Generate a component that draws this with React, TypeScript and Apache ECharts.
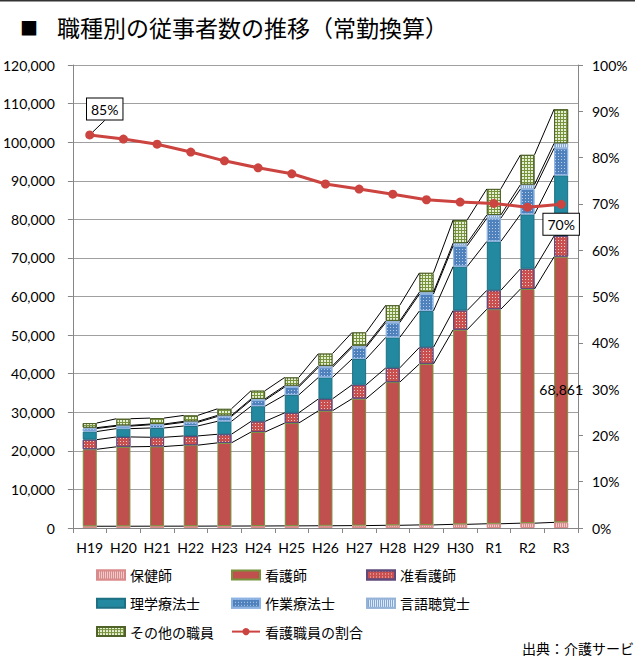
import React, { useEffect, useRef } from 'react';
import * as echarts from 'echarts';

const categories = ['H19', 'H20', 'H21', 'H22', 'H23', 'H24', 'H25', 'H26', 'H27', 'H28', 'H29', 'H30', 'R1', 'R2', 'R3'];
const hokenshi = [450, 460, 470, 480, 500, 520, 550, 580, 620, 700, 800, 950, 1100, 1250, 1459];
const kangoshi = [19950, 20580, 20650, 20990, 21560, 24370, 26650, 29800, 32900, 37110, 41730, 50430, 55600, 60700, 68861];
const junkangoshi = [2500, 2560, 2400, 2390, 2230, 2750, 2660, 3080, 3600, 3690, 4290, 4990, 4890, 5250, 5380];
const rigaku = [2100, 2150, 2400, 2580, 3350, 3940, 4630, 5570, 6700, 7900, 9450, 11390, 12680, 14090, 15700];
const sagyo = [800, 650, 830, 960, 1260, 1570, 2060, 2620, 3010, 3860, 4370, 5390, 6000, 6600, 7030];
const gengo = [200, 200, 200, 240, 280, 310, 340, 380, 420, 430, 520, 690, 850, 1110, 1290];
const sonota = [1200, 1720, 1540, 1540, 1710, 2140, 2140, 3170, 3440, 4040, 4980, 6000, 6770, 7720, 8820];
const kangoRatio = [84.9, 84.0, 82.9, 81.2, 79.3, 77.8, 76.5, 74.3, 73.2, 72.1, 70.9, 70.4, 70.1, 69.3, 69.9];

const leftTicks = { min: 0, max: 120000, interval: 10000 };
const rightTicks = { min: 0, max: 100, interval: 10 };

const stackSeries = [
  { name: '保健師', data: hokenshi },
  { name: '看護師', data: kangoshi },
  { name: '准看護師', data: junkangoshi },
  { name: '理学療法士', data: rigaku },
  { name: '作業療法士', data: sagyo },
  { name: '言語聴覚士', data: gengo },
  { name: 'その他の職員', data: sonota },
];

const NUM_FONT = 'Lato, "Noto Sans", sans-serif';
const JP_FONT = '"Noto Sans CJK JP", "Noto Sans", sans-serif';
const BAR_W = 14;

const styles: Record<string, any> = {
  '保健師': {
    color: '#d98a8a', borderColor: '#d98a8a', borderWidth: 1,
    decal: { symbol: 'rect', symbolSize: 1, color: 'rgba(255,255,255,0.55)', dashArrayX: [1, 1], dashArrayY: [4, 0] },
  },
  '看護師': { color: '#c0504d', borderColor: '#77933c', borderWidth: 1 },
  '准看護師': {
    color: '#c9504e', borderColor: '#604a7b', borderWidth: 1,
    decal: { symbol: 'rect', symbolSize: 1, color: 'rgba(255,255,255,0.7)', dashArrayX: [1, 2], dashArrayY: [1, 2] },
  },
  '理学療法士': { color: '#2389a0', borderColor: '#1d6f82', borderWidth: 1 },
  '作業療法士': {
    color: '#4f81bd', borderColor: '#8db3e2', borderWidth: 1,
    decal: { symbol: 'rect', symbolSize: 1, color: 'rgba(255,255,255,0.6)', dashArrayX: [1, 2], dashArrayY: [1, 2] },
  },
  '言語聴覚士': {
    color: '#7fa6d6', borderColor: '#95b3d7', borderWidth: 1,
    decal: { symbol: 'rect', symbolSize: 1, color: 'rgba(255,255,255,0.75)', dashArrayX: [1, 1], dashArrayY: [4, 0] },
  },
  'その他の職員': {
    color: '#77933c', borderColor: '#4f6228', borderWidth: 1,
    decal: { symbol: 'rect', symbolSize: 1, color: '#e6eed5', dashArrayX: [2, 1], dashArrayY: [2, 1] },
  },
};

export default function App() {
  const ref = useRef<HTMLDivElement>(null);

  useEffect(() => {
    if (!ref.current) return;
    const chart = echarts.init(ref.current, undefined, { renderer: 'svg' });

    // cumulative tops for series lines
    const levels: number[][] = [];
    const running = categories.map(() => 0);
    stackSeries.forEach((s) => {
      s.data.forEach((v, i) => (running[i] += v));
      levels.push(running.slice());
    });

    const barSeries = stackSeries.map((s) => ({
      name: s.name,
      type: 'bar',
      stack: 'total',
      barWidth: BAR_W,
      yAxisIndex: 0,
      itemStyle: styles[s.name],
      emphasis: { disabled: true },
      data: s.data.map((v, i) =>
        s.name === '看護師' && i === categories.length - 1
          ? {
              value: v,
              label: {
                show: true,
                position: 'inside',
                color: '#000',
                fontSize: 14,
                fontFamily: NUM_FONT,
                formatter: (p: any) => Number(p.value).toLocaleString('en-US'),
              },
            }
          : v
      ),
    }));

    const seriesLines = {
      type: 'custom',
      name: 'seriesLines',
      xAxisIndex: 0,
      yAxisIndex: 0,
      z: 3,
      silent: true,
      data: categories.map((_, i) => [i, 0]),
      encode: { x: 0, y: 1 },
      renderItem: (params: any, api: any) => {
        const i = params.dataIndex;
        if (i >= categories.length - 1) return null;
        const children = levels.map((lv) => {
          const p1 = api.coord([i, lv[i]]);
          const p2 = api.coord([i + 1, lv[i + 1]]);
          return {
            type: 'line',
            shape: { x1: p1[0] + BAR_W / 2, y1: p1[1], x2: p2[0] - BAR_W / 2, y2: p2[1] },
            style: { stroke: '#000', lineWidth: 1 },
          };
        });
        return { type: 'group', children };
      },
    };

    const ratioLabel = {
      show: true,
      color: '#000',
      fontSize: 14,
      fontFamily: NUM_FONT,
      backgroundColor: '#fff',
      borderColor: '#000',
      borderWidth: 1,
      padding: [4, 4, 3, 4],
      formatter: (p: any) => Math.round(p.value) + '%',
    };

    const lineSeries = {
      name: '看護職員の割合',
      type: 'line',
      yAxisIndex: 1,
      z: 5,
      symbol: 'circle',
      symbolSize: 9,
      itemStyle: { color: '#cc4440' },
      lineStyle: { color: '#cc4440', width: 3 },
      emphasis: { disabled: true },
      labelLayout: (p: any) => (p.dataIndex === 0 ? { dx: 15, dy: -6 } : {}),
      labelLine: { show: true, lineStyle: { color: '#000', width: 1 } },
      data: kangoRatio.map((v, i) => {
        if (i === 0) return { value: v, label: { ...ratioLabel, position: 'top' } };
        if (i === kangoRatio.length - 1)
          return { value: v, label: { ...ratioLabel, position: 'bottom', offset: [0, -2] }, labelLine: { show: false } };
        return v;
      }),
    };

    const legendBase = {
      orient: 'vertical',
      top: 568,
      itemWidth: 28,
      itemHeight: 9,
      itemGap: 14.3,
      padding: 0,
      selectedMode: false,
      textStyle: { fontFamily: JP_FONT, fontSize: 14, color: '#000' },
    };

    chart.setOption({
      animation: false,
      backgroundColor: '#fff',
      grid: { left: 72, right: 57, top: 65, bottom: 129, containLabel: false },
      xAxis: {
        type: 'category',
        data: categories,
        boundaryGap: true,
        axisLine: { lineStyle: { color: '#868686' } },
        axisTick: { show: true, length: 5, interval: 0, lineStyle: { color: '#868686' } },
        axisLabel: { color: '#000', fontSize: 14, fontFamily: NUM_FONT, margin: 12, interval: 0 },
      },
      yAxis: [
        {
          type: 'value',
          ...leftTicks,
          axisLine: { show: true, lineStyle: { color: '#868686' } },
          axisTick: { show: true, length: 5, lineStyle: { color: '#868686' } },
          splitLine: { show: true, lineStyle: { color: '#a0a0a0', width: 1 } },
          axisLabel: {
            color: '#000', fontSize: 14, fontFamily: NUM_FONT, margin: 18,
            formatter: (v: number) => v.toLocaleString('en-US'),
          },
        },
        {
          type: 'value',
          ...rightTicks,
          position: 'right',
          axisLine: { show: true, lineStyle: { color: '#868686' } },
          axisTick: { show: true, length: 5, lineStyle: { color: '#868686' } },
          splitLine: { show: false },
          axisLabel: { color: '#000', fontSize: 14, fontFamily: NUM_FONT, margin: 14, formatter: '{value}%' },
        },
      ],
      legend: [
        {
          ...legendBase,
          left: 96,
          data: [
            { name: '保健師', icon: 'rect' },
            { name: '理学療法士', icon: 'rect' },
            { name: 'その他の職員', icon: 'rect' },
          ],
        },
        {
          ...legendBase,
          left: 231,
          data: [
            { name: '看護師', icon: 'rect' },
            { name: '作業療法士', icon: 'rect' },
            { name: '看護職員の割合' },
          ],
        },
        {
          ...legendBase,
          left: 366,
          data: [
            { name: '准看護師', icon: 'rect' },
            { name: '言語聴覚士', icon: 'rect' },
          ],
        },
      ],
      graphic: [
        { type: 'rect', left: 0, top: 0, shape: { width: 635, height: 1.5 }, style: { fill: '#333' }, silent: true },
        {
          type: 'text', x: 20, y: 27, silent: true,
          style: { text: '■', fill: '#000', font: `18px ${JP_FONT}`, verticalAlign: 'middle' },
        },
        {
          type: 'text', x: 57, y: 27, silent: true,
          style: { text: '職種別の従事者数の推移（常勤換算）', fill: '#000', font: `23px ${JP_FONT}`, verticalAlign: 'middle' },
        },
        {
          type: 'text', x: 522, y: 648, silent: true,
          style: { text: '出典：介護サービ', fill: '#000', font: `14px ${JP_FONT}`, verticalAlign: 'middle' },
        },
      ],
      series: [...barSeries, seriesLines, lineSeries],
    });

    return () => chart.dispose();
  }, []);

  return <div ref={ref} style={{ position: 'absolute', left: 0, top: 0, width: 635, height: 657 }} />;
}
